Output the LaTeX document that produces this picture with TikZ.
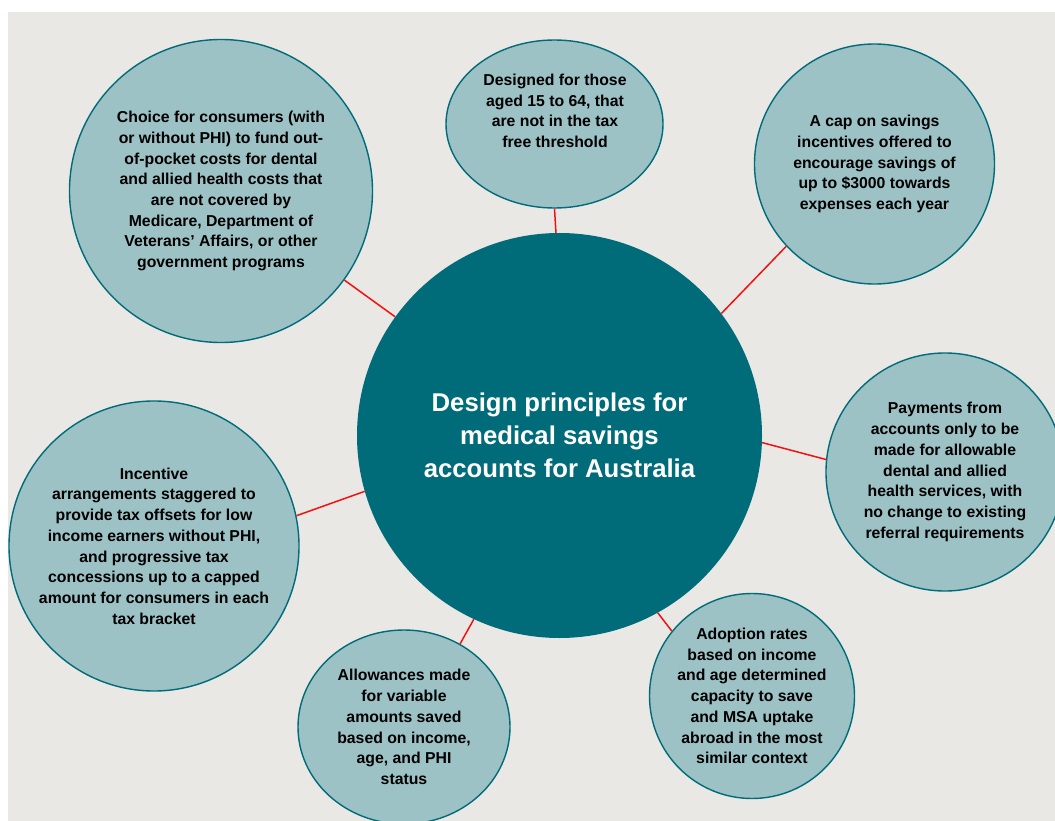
\documentclass[tikz,border=0pt]{standalone}
\usepackage{fontspec}
\setmainfont{Liberation Sans}
\usepackage{tikz}
\usetikzlibrary{shapes.geometric}

\definecolor{darkteal}{HTML}{006B79}
\definecolor{paleteal}{HTML}{9CC2C5}
\definecolor{paper}{HTML}{E9E8E4}
\definecolor{linkred}{HTML}{F51010}

\begin{document}
\begin{tikzpicture}[x=1pt,y=-1pt,
  main/.style={circle,fill=darkteal,minimum size=405pt,inner sep=0pt,
    text=white,align=center,font=\bfseries\fontsize{25.7}{33}\selectfont},
  bubble/.style={circle,draw=darkteal,line width=1.4pt,fill=paleteal,
    inner sep=0pt,align=center},
  txt/.style={align=center,text=black,font=\bfseries\fontsize{15.8}{20.7}\selectfont},
  link/.style={draw=linkred,line width=1.5pt}]
\useasboundingbox (0,0) rectangle (1055,821);
\clip (0,0) rectangle (1055,821);
\fill[paper] (8,12) rectangle (1055,821);

\node[main] (m_0) at (559.5,435.5) {Design principles for\\medical savings\\accounts for Australia};

\node[bubble,ellipse,minimum width=217pt,minimum height=168pt] (p_1) at (554.5,124) {};
\node[txt] (t_1) at (555,111) {Designed for those\\aged 15 to 64, that\\are not in the tax\\free threshold};
\node[bubble,minimum size=240pt,txt] (p_2) at (874.5,164) {A cap on savings\\incentives offered to\\encourage savings of\\up to \$3000 towards\\expenses each year};
\node[bubble,minimum size=238pt,txt] (p_3) at (945,472) {Payments from\\accounts only to be\\made for allowable\\dental and allied\\health services, with\\no change to existing\\referral requirements};
\node[bubble,minimum size=205pt,txt] (p_4) at (752,696) {Adoption rates\\based on income\\and age determined\\capacity to save\\and MSA uptake\\abroad in the most\\similar context};
\node[bubble,ellipse,minimum width=212pt,minimum height=194pt,txt] (p_5) at (404,727) {Allowances made\\for variable\\amounts saved\\based on income,\\age, and PHI\\status};
\node[bubble,minimum size=290pt,txt] (p_6) at (154,546) {Incentive\\arrangements staggered to\\provide tax offsets for low\\income earners without PHI,\\and progressive tax\\concessions up to a capped\\amount for consumers in each\\tax bracket};
\node[bubble,minimum size=303pt,txt] (p_7) at (221,191) {Choice for consumers (with\\or without PHI) to fund out-\\of-pocket costs for dental\\and allied health costs that\\are not covered by\\Medicare, Department of\\Veterans’ Affairs, or other\\government programs};

\path[link] (p_1.south) edge (m_0.91)
    (p_2.223) edge (m_0.37)
    (m_0.-2) edge (p_3.174)
    (m_0.-61) edge (p_4.141)
    (p_5.56) edge (m_0.245)
    (p_6.12) edge (m_0.196)
    (p_7) edge (m_0);
\end{tikzpicture}
\end{document}
